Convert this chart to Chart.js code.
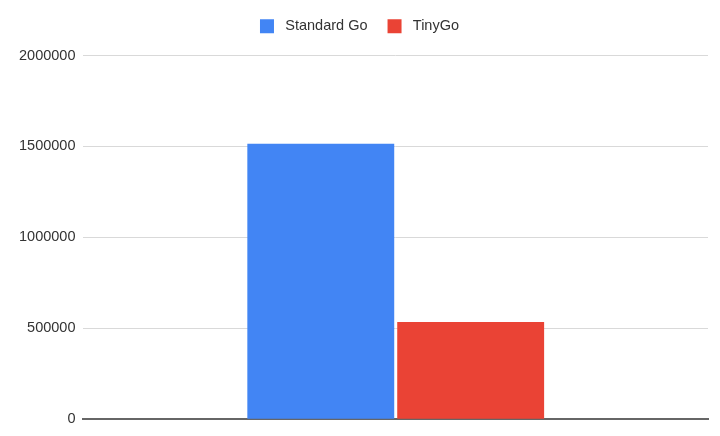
<!DOCTYPE html>
<html>
<head>
<meta charset="utf-8">
<script src="https://cdn.jsdelivr.net/npm/chart.js@4/dist/chart.umd.min.js"></script>
<style>
  html, body { margin: 0; padding: 0; background: #fff; }
  #wrap { width: 720px; height: 436px; }
</style>
</head>
<body>
<div id="wrap"><canvas id="chart"></canvas></div>
<script>
// data
const categories = [""];
const standardGo = [1515000];
const tinyGo = [535000];
const yTicks = [0, 500000, 1000000, 1500000, 2000000];

Chart.defaults.font.family = "'Liberation Sans', Arial, sans-serif";
Chart.defaults.color = "#333";

// extra room under the legend
const legendGap = {
  id: "legendGap",
  beforeInit(chart) {
    const fit = chart.legend.fit;
    chart.legend.fit = function () {
      fit.bind(chart.legend)();
      this.height += 12;
    };
  },
};

new Chart(document.getElementById("chart"), {
  type: "bar",
  data: {
    labels: categories,
    datasets: [
      {
        label: "Standard Go",
        data: standardGo,
        backgroundColor: "#4285f4",
        barPercentage: 0.98,
        categoryPercentage: 0.48,
      },
      {
        label: "TinyGo",
        data: tinyGo,
        backgroundColor: "#ea4335",
        barPercentage: 0.98,
        categoryPercentage: 0.48,
      },
    ],
  },
  plugins: [legendGap],
  options: {
    responsive: true,
    maintainAspectRatio: false,
    animation: false,
    layout: { padding: { left: 11, right: 12, top: 7, bottom: 6 } },
    plugins: {
      legend: {
        position: "top",
        labels: {
          boxWidth: 14,
          boxHeight: 14,
          padding: 12,
          font: { size: 14.5 },
          color: "#333",
          generateLabels: (chart) =>
            Chart.defaults.plugins.legend.labels.generateLabels(chart).map((l, i, all) => {
              l.text = " " + l.text + (i < all.length - 1 ? "  " : "");
              return l;
            }),
        },
      },
      tooltip: { enabled: false },
    },
    scales: {
      x: {
        grid: { display: false },
        border: { color: "#666", width: 2 },
        ticks: { display: false },
      },
      y: {
        min: 0,
        max: 2000000,
        afterBuildTicks: (axis) => {
          axis.ticks = yTicks.map((v) => ({ value: v }));
        },
        grid: { color: "#d9d9d9", drawTicks: false },
        border: { display: false },
        ticks: {
          padding: 8,
          font: { size: 14.5 },
          color: "#333",
          callback: (v) => String(v),
        },
      },
    },
  },
});
</script>
</body>
</html>
